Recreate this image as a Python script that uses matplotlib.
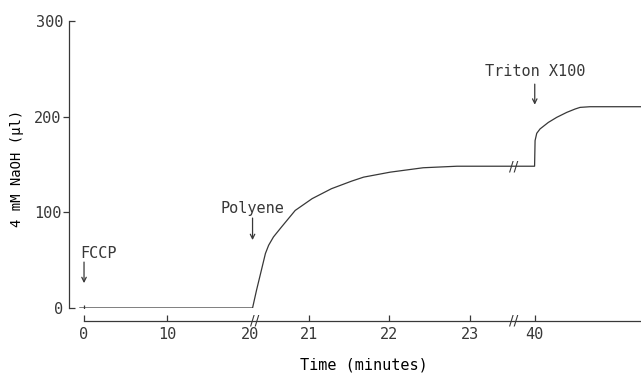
import matplotlib
matplotlib.use('Agg')
import matplotlib.pyplot as plt
import matplotlib.transforms as mtransforms
import numpy as np

# --- Data ---
# polyene run (minutes, ul of 4 mM NaOH)
time_a = [-0.5, 20.30, 20.35, 20.41, 20.46, 20.50, 20.56, 20.66, 20.83, 21.04,
          21.28, 21.53, 21.68, 22.01, 22.42, 22.84, 23.46, 23.54]
naoh_a = [0, 0, 18.8, 39.6, 57.0, 65.6, 74.3, 84.7, 102.0, 114.3,
          124.7, 132.6, 136.8, 142.0, 146.6, 148.2, 148.2, 148.2]
# after the second break, Triton X100 at 40 min
time_b = [37.45, 39.98, 40.04, 40.24, 40.64, 41.64, 42.65, 43.86, 44.86, 45.46, 46.66, 52.8]
naoh_b = [148.2, 148.2, 175.0, 182.6, 187.2, 194.0, 199.3, 204.5, 208.0, 209.7, 210.4, 210.4]

xticks = [0, 10, 20, 21, 22, 23, 40]
yticks_major = [100, 200]
yticks_minor = [0, 300]

additions = ['FCCP', 'Polyene', 'Triton X100']
add_time = [0, 20.3, 40]
arrow_tail = [48, 94, 234]
arrow_tip = [26, 71, 212.5]
label_y = [57, 104, 247]

# broken time axis: piecewise linear scale
T_KNOTS = [-100, 0, 20.3, 23.54, 37.45, 200]
P_KNOTS = [-746, 84, 252.5, 513.3, 513.5, 1862.7]
axis_breaks = [20.33, 23.54]


def fwd(t):
    return np.interp(t, T_KNOTS, P_KNOTS)


def inv(p):
    return np.interp(p, P_KNOTS, T_KNOTS)


ink = '#383838'
plt.rcParams['font.family'] = ['DejaVu Sans Mono']
plt.rcParams['font.size'] = 11
plt.rcParams['text.color'] = ink

fig = plt.figure(figsize=(6.41, 3.74), dpi=100)
ax = fig.add_axes([69 / 641, 1 - 308 / 374, 572 / 641, 287 / 374])
ax.set_xscale('function', functions=(fwd, inv))

# one continuous trace (the gap is squeezed to nothing by the scale)
ax.plot(time_a + time_b, naoh_a + naoh_b, color=ink, lw=0.9, solid_joinstyle='round')
ax.plot([add_time[0]], [0], marker='|', ms=5, color=ink, mew=0.9)

ax.set_xlim(-1.81, 52.8)
ax.set_ylim(0, 300)

for side in ['top', 'right']:
    ax.spines[side].set_visible(False)
ax.spines['bottom'].set_position(('outward', 9.4))
ax.spines['bottom'].set_bounds(0, 52.8)
for side in ['left', 'bottom']:
    ax.spines[side].set_color(ink)
    ax.spines[side].set_linewidth(0.9)

ax.set_xticks(xticks, labels=[str(x) for x in xticks])
ax.xaxis.set_minor_locator(matplotlib.ticker.NullLocator())
ax.tick_params(axis='x', direction='in', length=4, width=0.9, color=ink, pad=4, labelcolor=ink)
ax.xaxis.get_major_ticks()[2].tick1line.set_visible(False)

ax.set_yticks(yticks_major, labels=[str(y) for y in yticks_major])
ax.set_yticks(yticks_minor, labels=[str(y) for y in yticks_minor], minor=True)
ax.tick_params(axis='y', which='major', direction='out', length=4, width=0.9,
               color=ink, pad=1.5, labelcolor=ink, labelsize=11)
ax.tick_params(axis='y', which='minor', direction='in', length=4, width=0.9,
               color=ink, pad=4.3, labelcolor=ink, labelsize=11)

ax.set_xlabel('Time (minutes)', va='center')
ax.xaxis.set_label_coords(0.516, -0.199)
ax.set_ylabel('4 mM NaOH (µl)', va='center', fontsize=10)
ax.yaxis.set_label_coords(-0.091, 0.488)

# arrows for additions
for name, t, a0, a1, ly in zip(additions, add_time, arrow_tail, arrow_tip, label_y):
    ax.annotate('', xy=(t, a1), xytext=(t, a0),
                arrowprops=dict(arrowstyle='->', color=ink, lw=0.9,
                                shrinkA=0, shrinkB=0, mutation_scale=8))
    ha = 'left' if name == 'FCCP' else 'center'
    dx = -0.5 if name == 'FCCP' else 0
    ax.text(t + dx, ly, name, ha=ha, va='center')

# break marks on the time axis and on the trace
trans = mtransforms.blended_transform_factory(ax.transData, ax.transAxes)
for b in axis_breaks:
    ax.text(b, -13 / 287, '//', transform=trans, ha='center', va='center',
            fontsize=10, color=ink, fontfamily='DejaVu Sans')
ax.text(axis_breaks[1], naoh_a[-1], '//', ha='center', va='center',
        fontsize=10, color=ink, fontfamily='DejaVu Sans')

fig.savefig('out.png', dpi=100)
